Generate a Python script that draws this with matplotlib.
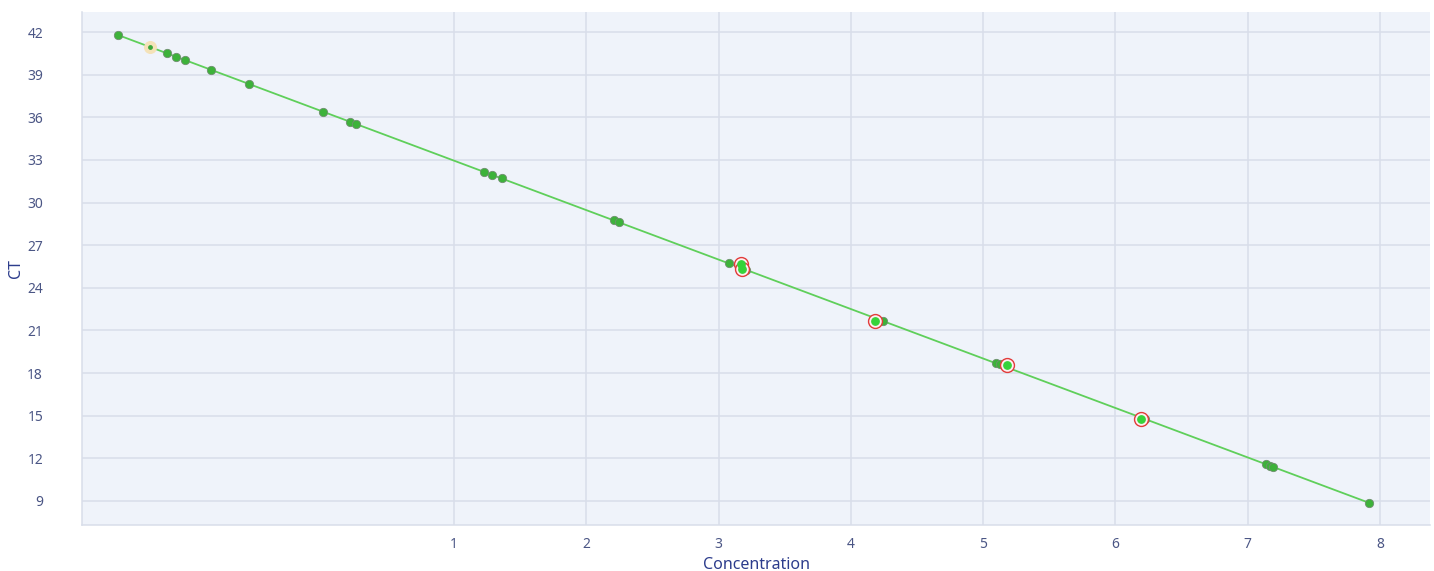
import numpy as np
import matplotlib
matplotlib.use("Agg")
from matplotlib import pyplot as plt

plt.rcParams['font.family'] = ['Noto Sans', 'DejaVu Sans']

# standard curve samples (log concentration vs CT)
conc = [-1.54, -1.17, -1.10, -1.03, -0.84, -0.55, 0.01, 0.21, 0.26,
        1.23, 1.29, 1.36, 2.21, 2.25, 3.08, 3.21, 4.24, 5.10, 5.13,
        6.22, 7.14, 7.17, 7.19, 7.92]
ct = [41.79, 40.52, 40.24, 40.03, 39.33, 38.34, 36.37, 35.67, 35.53,
      32.15, 31.94, 31.73, 28.77, 28.63, 25.75, 25.25, 21.66, 18.71, 18.64,
      14.77, 11.60, 11.46, 11.39, 8.86]

# flagged wells (red ring)
flag_conc = [3.17, 3.18, 4.18, 5.18, 6.19]
flag_ct = [25.67, 25.32, 21.66, 18.57, 14.77]

# selected well (yellow halo)
sel_conc = [-1.30]
sel_ct = [40.94]

# regression line
slope = -3.481
intercept = 36.43

fig = plt.figure(figsize=(14.34, 5.71), dpi=100)
ax = fig.add_axes([0.0572, 0.0806, 0.9400, 0.8984])
ax.set_facecolor('#eff3fa')

fit_x = np.array([min(conc), max(conc)])
ax.plot(fit_x, intercept + slope * fit_x, color='#5fcf5a', lw=1.3, zorder=2)

ax.scatter(conc, ct, s=36, color='#3db23a', edgecolors='#6f8f6f', linewidths=0.6, zorder=3)

ax.scatter(flag_conc, flag_ct, s=100, facecolors='#fdf0f0', edgecolors='#e23b3b', linewidths=1.0, zorder=4)
ax.scatter(flag_conc, flag_ct, s=28, color='#35d33a', zorder=5)

ax.scatter(sel_conc, sel_ct, s=70, color='#f4e2b8', zorder=4)
ax.scatter(sel_conc, sel_ct, s=6, color='#3aa83a', zorder=5)

ax.set_xlim(-1.812, 8.378)
ax.set_ylim(7.31, 43.41)
ax.set_xticks(range(1, 9))
ax.set_yticks(range(9, 43, 3))

ax.grid(True, color='#d8deea', lw=1.1)
ax.set_axisbelow(True)
for side in ['top', 'right']:
    ax.spines[side].set_visible(False)
for side in ['left', 'bottom']:
    ax.spines[side].set_color('#d8deea')
    ax.spines[side].set_linewidth(1.1)

ax.tick_params(length=0, labelsize=10, colors='#4b5685')
ax.tick_params(axis='y', pad=28)
ax.tick_params(axis='x', pad=9)
ax.set_xlabel('Concentration', fontsize=11.5, color='#2c3c8c', labelpad=3)
ax.set_ylabel('CT', fontsize=11.5, color='#2c3c8c', labelpad=2)

fig.savefig('out.png', dpi=100)
plt.close(fig)
